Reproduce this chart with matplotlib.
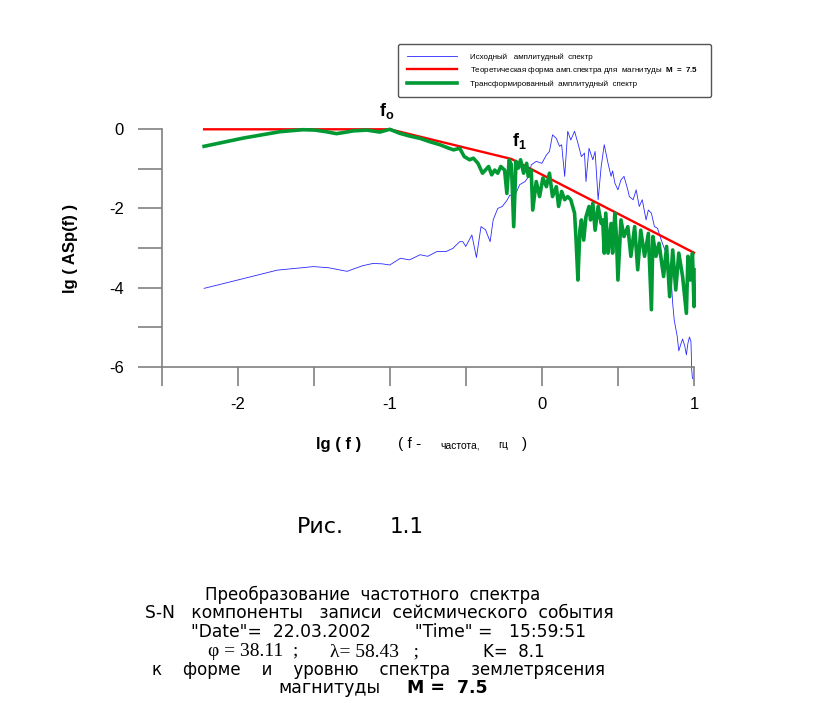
import matplotlib
matplotlib.use("Agg")
import matplotlib.pyplot as plt

plt.rcParams['font.family'] = ['Liberation Sans', 'DejaVu Sans']
plt.rcParams['mathtext.fontset'] = 'custom'
plt.rcParams['mathtext.rm'] = 'Liberation Sans'
plt.rcParams['mathtext.bf'] = 'Liberation Sans:bold'

# исходный амплитудный спектр (lg f, lg A)
blue_x = [-2.22, -2.00, -1.74, -1.50, -1.40, -1.28, -1.18, -1.11, -1.05, -1.00,
          -0.93, -0.87, -0.80, -0.75, -0.69, -0.63, -0.585, -0.54, -0.52, -0.50,
          -0.46, -0.43, -0.40, -0.37, -0.34, -0.32, -0.29, -0.26, -0.23, -0.21,
          -0.18, -0.146, -0.11, -0.08, -0.07, -0.037, 0.0, 0.03, 0.05, 0.07,
          0.095, 0.116, 0.13, 0.15, 0.17, 0.19, 0.215, 0.237, 0.26, 0.28,
          0.29, 0.31, 0.335, 0.35, 0.37, 0.39, 0.41, 0.435, 0.455, 0.465,
          0.48, 0.50, 0.52, 0.54, 0.565, 0.575, 0.60, 0.62, 0.64, 0.66,
          0.685, 0.70, 0.72, 0.74, 0.76, 0.785, 0.80, 0.83, 0.85, 0.86,
          0.87, 0.89, 0.90, 0.915, 0.925, 0.94, 0.95, 0.96, 0.97, 0.98,
          0.985, 0.99]
blue_y = [-4.02, -3.81, -3.56, -3.47, -3.50, -3.59, -3.45, -3.39, -3.40, -3.43,
          -3.26, -3.30, -3.17, -3.21, -3.09, -3.09, -3.01, -2.84, -2.84, -2.96,
          -2.67, -3.24, -2.46, -2.54, -2.84, -2.29, -2.00, -1.95, -1.80, -1.66,
          -1.70, -1.40, -1.32, -1.15, -0.90, -0.81, -0.86, -0.65, -0.56, -0.14,
          -0.23, -0.43, -0.39, -1.19, -0.05, -0.27, -0.05, -0.35, -0.69, -0.60,
          -1.32, -0.48, -0.77, -0.56, -1.78, -0.94, -0.39, -0.86, -1.19, -1.05,
          -1.36, -1.53, -1.28, -1.19, -1.53, -1.70, -1.78, -1.53, -1.95, -1.78,
          -2.29, -2.04, -2.12, -2.46, -2.50, -2.80, -2.96, -3.26, -3.80, -4.40,
          -4.82, -5.24, -5.60, -5.41, -5.30, -5.49, -5.70, -5.41, -5.25, -5.36,
          -6.08, -6.30]

# теоретическая форма спектра
red_x = [-2.22, -1.0, -0.2, 1.0]
red_y = [0.0, 0.0, -0.75, -3.12]

# трансформированный спектр
green_x = [-2.22, -1.96, -1.72, -1.57, -1.49, -1.42, -1.35, -1.30, -1.24, -1.15,
           -1.065, -1.00, -0.935, -0.87, -0.80, -0.74, -0.67, -0.61, -0.58, -0.54,
           -0.51, -0.475, -0.45, -0.42, -0.39, -0.35, -0.33, -0.31, -0.29, -0.27,
           -0.245, -0.23, -0.215, -0.20, -0.185, -0.17, -0.155, -0.14, -0.12, -0.10,
           -0.09, -0.07, -0.06, -0.037, -0.015, 0.007, 0.03, 0.05, 0.07, 0.095,
           0.11, 0.13, 0.15, 0.17, 0.19, 0.215, 0.225, 0.237, 0.25, 0.26,
           0.275, 0.29, 0.31, 0.32, 0.335, 0.35, 0.37, 0.39, 0.40, 0.41,
           0.42, 0.435, 0.455, 0.465, 0.48, 0.49, 0.50, 0.52, 0.54, 0.565,
           0.585, 0.61, 0.63, 0.65, 0.675, 0.70, 0.72, 0.73, 0.75, 0.77,
           0.80, 0.82, 0.84, 0.86, 0.88, 0.90, 0.925, 0.95, 0.96, 0.975,
           0.99, 1.0, 1.0]
green_y = [-0.43, -0.22, -0.06, -0.01, -0.02, -0.06, -0.11, -0.08, -0.04, -0.02,
           -0.07, 0.0, -0.10, -0.17, -0.23, -0.31, -0.39, -0.48, -0.52, -0.48,
           -0.69, -0.77, -0.73, -0.86, -1.11, -0.94, -1.15, -1.03, -1.11, -0.94,
           -1.03, -1.62, -0.77, -0.90, -2.46, -0.81, -0.98, -0.77, -1.11, -0.86,
           -1.19, -1.03, -2.04, -1.32, -1.70, -1.23, -1.45, -1.11, -1.70, -1.45,
           -1.95, -1.57, -1.78, -1.70, -1.78, -2.12, -2.80, -3.81, -2.55, -2.29,
           -2.80, -2.21, -1.95, -2.29, -1.87, -2.55, -1.95, -2.38, -2.29, -3.13,
           -2.12, -3.13, -2.38, -3.13, -2.12, -2.71, -3.81, -2.29, -2.71, -2.46,
           -3.21, -2.46, -3.55, -2.55, -3.21, -2.63, -4.56, -2.71, -3.21, -2.88,
           -3.72, -2.96, -4.23, -3.05, -4.06, -3.13, -3.72, -4.65, -3.21, -3.81,
           -3.13, -4.48, -3.55]

x_ticks = [-2.5, -2, -1.5, -1, -0.5, 0, 0.5, 1]
x_labels = ['', '-2', '', '-1', '', '0', '', '1']
y_ticks = [-6, -5, -4, -3, -2, -1, 0]
y_labels = ['-6', '', '-4', '', '-2', '', '0']

fig = plt.figure(figsize=(8.19, 7.09), dpi=100)
ax = fig.add_axes([161.5 / 819, 1 - 366.7 / 709, (694 - 161.5) / 819, (366.7 - 129.3) / 709])

l1, = ax.plot(blue_x, blue_y, color='#2a2aff', lw=0.6, clip_on=False,
              label='Исходный   амплитудный  спектр')
l2, = ax.plot(red_x, red_y, color='#ff0000', lw=1.7, clip_on=False,
              label=r'Теоретическая форма амп.спектра для  магнитуды  $\mathbf{M\ =\ 7.5}$')
l3, = ax.plot(green_x, green_y, color='#009933', lw=2.6, clip_on=False,
              label='Трансформированный  амплитудный  спектр')

ax.set_xlim(-2.5, 1.0)
ax.set_ylim(-6, 0)
for s in ['top', 'right']:
    ax.spines[s].set_visible(False)
for s in ['left', 'bottom']:
    ax.spines[s].set_color('#808080')
    ax.spines[s].set_linewidth(1.2)

ax.set_xticks(x_ticks)
ax.set_xticklabels(x_labels)
ax.set_yticks(y_ticks)
ax.set_yticklabels(y_labels)
ax.tick_params(axis='y', length=17, width=1.2, color='#808080', pad=10, labelsize=12)
ax.tick_params(axis='x', length=14, width=1.2, color='#808080', pad=8, labelsize=12)

ax.text(-1.02, 0.2, r'$\mathbf{f}_\mathbf{o}$', fontsize=13, ha='center', va='bottom')
ax.text(-0.15, -0.55, r'$\mathbf{f}_\mathbf{1}$', fontsize=13, ha='center', va='bottom')

fig.text(70 / 819, 1 - 248 / 709, 'lg ( ASp(f) )', rotation=90, fontsize=12,
         fontweight='bold', ha='center', va='center')
fig.text(316 / 819, 1 - 444 / 709, 'lg ( f )', fontsize=12, fontweight='bold',
         ha='left', va='center')
fig.text(398 / 819, 1 - 444 / 709, '( f -', fontsize=11, ha='left', va='center')
fig.text(440 / 819, 1 - 445 / 709, 'частота,', fontsize=7.5, ha='left', va='center')
fig.text(498 / 819, 1 - 445 / 709, 'гц', fontsize=7.5, ha='left', va='center')
fig.text(522 / 819, 1 - 444 / 709, ')', fontsize=11, ha='left', va='center')

fig.legend(handles=[l1, l2, l3], loc='upper left', mode='expand',
           bbox_to_anchor=(398 / 819, 1 - 94 / 709, (711 - 398) / 819, 50 / 709),
           fontsize=5.8, handlelength=6.2, handletextpad=1.6, borderaxespad=0,
           borderpad=1.15, labelspacing=0.5, frameon=True, fancybox=True,
           edgecolor='#555555', framealpha=1)

wide = 'DejaVu Sans'
fig.text(297 / 819, 1 - 527 / 709, 'Рис.', fontsize=16, family=wide, ha='left', va='center')
fig.text(390 / 819, 1 - 527 / 709, '1.1', fontsize=15.5, family=wide, ha='left', va='center')

fig.text(372.5 / 819, 1 - 595 / 709, 'Преобразование  частотного  спектра', fontsize=12,
         family=wide, ha='center', va='center')
fig.text(379.5 / 819, 1 - 613.3 / 709, 'S-N   компоненты   записи  сейсмического  события',
         fontsize=12.3, family=wide, ha='center', va='center')
fig.text(389 / 819, 1 - 632.3 / 709, '"Date"=  22.03.2002        "Time" =   15:59:51',
         fontsize=12.3, family=wide, ha='center', va='center')
fig.text(208 / 819, 1 - 651.7 / 709, 'φ = 38.11  ;', fontsize=14,
         family='Liberation Serif', ha='left', va='center')
fig.text(330 / 819, 1 - 651.7 / 709, 'λ= 58.43   ;', fontsize=14,
         family='Liberation Serif', ha='left', va='center')
fig.text(483 / 819, 1 - 651.7 / 709, 'K=  8.1', fontsize=12, family=wide,
         ha='left', va='center')
fig.text(379 / 819, 1 - 670 / 709, 'к    форме    и    уровню    спектра    землетрясения',
         fontsize=12, family=wide, ha='center', va='center')
fig.text(278 / 819, 1 - 688.3 / 709, 'магнитуды', fontsize=12.5, family=wide,
         ha='left', va='center')
fig.text(407 / 819, 1 - 688.3 / 709, 'M =  7.5', fontsize=12.5, fontweight='bold',
         family=wide, ha='left', va='center')

fig.savefig('out.png', dpi=100)
